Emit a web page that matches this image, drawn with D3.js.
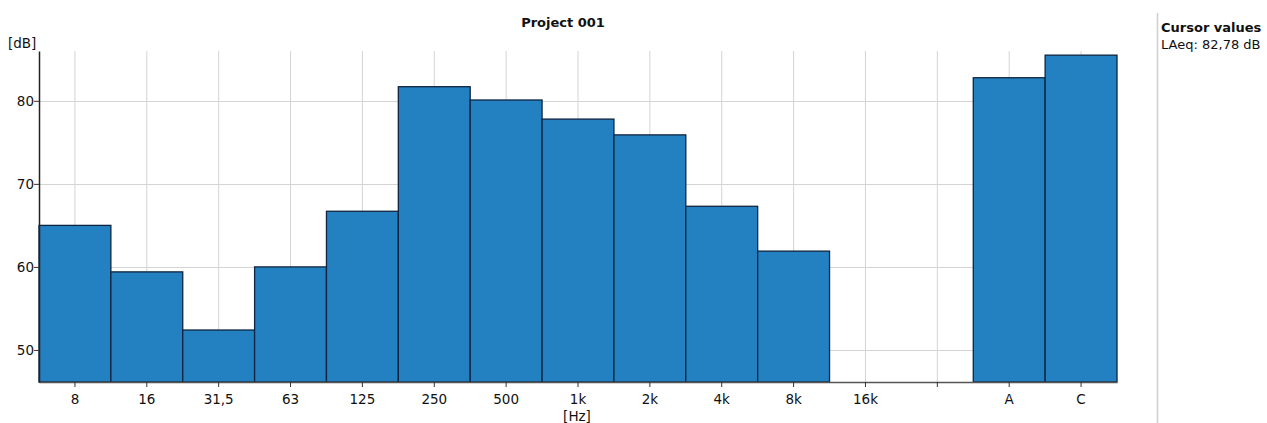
<!DOCTYPE html>
<html><head><meta charset="utf-8">
<script src="https://cdn.jsdelivr.net/npm/d3@7"></script>
<style>
body{margin:0;background:#fff;}
text{font-family:"DejaVu Sans",Verdana,sans-serif;}
</style></head>
<body><svg id="c" width="1267" height="423"></svg>
<script>
const categories = ["8","16","31,5","63","125","250","500","1k","2k","4k","8k","16k","","A","C"];
const values = [65.0, 59.4, 52.4, 60.0, 66.7, 81.7, 80.1, 77.8, 75.9, 67.3, 61.9, null, null, 82.78, 85.5];
const yTicks = [50, 60, 70, 80];
const title = "Project 001";

const svg = d3.select("#c");
const L = 39, R = 1117, T = 51, B = 382;
const x = d3.scaleBand().domain(d3.range(categories.length)).range([L, R]).padding(0);
const y = d3.scaleLinear().domain([46.14, 86.0]).range([B, T]);

// grid
const g = svg.append("g");
g.selectAll(".vg").data(d3.range(categories.length)).join("line")
  .attr("x1", i => x(i) + x.bandwidth()/2).attr("x2", i => x(i) + x.bandwidth()/2)
  .attr("y1", T).attr("y2", B).attr("stroke", "#d4d4d4").attr("stroke-width", 1);
g.selectAll(".hg").data(yTicks).join("line")
  .attr("x1", L).attr("x2", R).attr("y1", d => Math.round(y(d))+0.5).attr("y2", d => Math.round(y(d))+0.5)
  .attr("stroke", "#d4d4d4").attr("stroke-width", 1);

// bars
const data = values.map((v, i) => ({i, v})).filter(d => d.v != null);
svg.append("g").selectAll("rect").data(data).join("rect")
  .attr("x", d => x(d.i)).attr("width", x.bandwidth())
  .attr("y", d => y(d.v)).attr("height", d => B - y(d.v))
  .attr("fill", "#2481c1").attr("stroke", "#0f2440").attr("stroke-width", 1.3);

// axes
const xa = svg.append("g").attr("transform", `translate(0,${B})`)
  .call(d3.axisBottom(x).tickFormat(i => categories[i]).tickSize(5).tickSizeOuter(0));
xa.select(".domain").attr("stroke", "#555").attr("stroke-width", 1.5);
xa.selectAll(".tick line").attr("stroke", "#333");
xa.selectAll(".tick text").attr("font-size", 13.5).attr("fill", "#111").attr("dy", "1.0em");

const ya = svg.append("g").attr("transform", `translate(${L},0)`)
  .call(d3.axisLeft(y).tickValues(yTicks).tickSize(5).tickSizeOuter(0));
ya.select(".domain").attr("stroke", "#222").attr("stroke-width", 1.5);
ya.selectAll(".tick line").attr("stroke", "#333");
ya.selectAll(".tick text").attr("font-size", 13.5).attr("fill", "#111").attr("x", -5);

// labels
svg.append("text").attr("x", 563).attr("y", 27).attr("text-anchor", "middle")
  .attr("font-size", 13).attr("font-weight", "bold").attr("fill", "#111").text(title);
svg.append("text").attr("x", 8).attr("y", 48).attr("font-size", 13.5).attr("fill", "#111").text("[dB]");
svg.append("text").attr("x", 577).attr("y", 421).attr("text-anchor", "middle")
  .attr("font-size", 13.5).attr("fill", "#111").text("[Hz]");

// right panel
svg.append("line").attr("x1", 1157.5).attr("x2", 1157.5).attr("y1", 13).attr("y2", 423)
  .attr("stroke", "#cfcfcf").attr("stroke-width", 1.5);
svg.append("text").attr("x", 1161).attr("y", 32).attr("font-size", 13).attr("font-weight", "bold")
  .attr("fill", "#111").text("Cursor values");
svg.append("text").attr("x", 1161).attr("y", 49).attr("font-size", 13)
  .attr("fill", "#111").text("LAeq: 82,78 dB");
</script></body></html>
